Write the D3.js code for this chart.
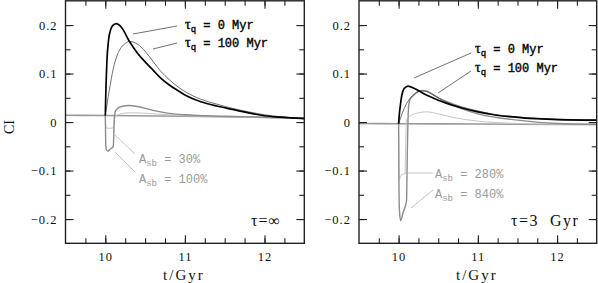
<!DOCTYPE html>
<html>
<head>
<meta charset="utf-8">
<script src="https://cdn.jsdelivr.net/npm/d3@7"></script>
<style>
  body { margin: 0; background: #fff; }
  svg text { font-family: "Liberation Serif", "DejaVu Serif", serif; }
  .mono { font-family: "Liberation Mono", "DejaVu Sans Mono", monospace !important; }
</style>
</head>
<body>
<svg id="SVG_CONTAINER" width="598" height="283"></svg>
<script>
let d3 = window.d3;

// tick values
const xMajor = [10, 11, 12];
const yMajor = [-0.2, -0.1, 0, 0.1, 0.2];

// ---- left panel (tau = infinity) ----
const infBaseT = [9.5, 10, 11, 12, 12.5];
const infBaseV = [0.014, 0.0135, 0.012, 0.0095, 0.008];

const infQ0T = [10, 10.005, 10.01, 10.02, 10.04, 10.07, 10.1, 10.14, 10.2, 10.3, 10.4, 10.5, 10.6, 10.7, 10.8, 10.9, 11.0, 11.2, 11.4, 11.6, 11.8, 12.0, 12.2, 12.5];
const infQ0V = [0.0135, 0.05, 0.08, 0.125, 0.168, 0.192, 0.2, 0.203, 0.196, 0.167, 0.143, 0.124, 0.107, 0.09, 0.077, 0.066, 0.056, 0.042, 0.033, 0.026, 0.019, 0.013, 0.010, 0.007];

const infQ100T = [10, 10.05, 10.1, 10.15, 10.2, 10.25, 10.3, 10.35, 10.4, 10.5, 10.6, 10.7, 10.8, 10.9, 11.0, 11.2, 11.4, 11.6, 11.8, 12.0, 12.2, 12.5];
const infQ100V = [0.0135, 0.065, 0.11, 0.138, 0.154, 0.162, 0.166, 0.165, 0.161, 0.146, 0.125, 0.104, 0.088, 0.074, 0.063, 0.047, 0.037, 0.028, 0.021, 0.015, 0.011, 0.007];

const infA100T = [10, 10.004, 10.01, 10.03, 10.06, 10.1, 10.115, 10.13, 10.2, 10.3, 10.4, 10.6, 10.8, 11.0, 11.5, 12.0, 12.5];
const infA100V = [0.0135, -0.03, -0.055, -0.06, -0.056, -0.05, 0.01, 0.024, 0.032, 0.034, 0.032, 0.024, 0.018, 0.015, 0.012, 0.010, 0.008];

const infA30T = [10, 10.004, 10.01, 10.05, 10.1, 10.115, 10.13, 10.2, 10.3, 10.4, 10.6, 10.8, 11.0, 11.5, 12.0, 12.5];
const infA30V = [0.0135, -0.005, -0.012, -0.013, -0.012, 0.006, 0.012, 0.017, 0.019, 0.019, 0.017, 0.015, 0.013, 0.011, 0.0095, 0.008];

// ---- right panel (tau = 3 Gyr) ----
const t3BaseT = [9.5, 10, 11, 12, 12.5];
const t3BaseV = [-0.003, -0.0035, -0.004, -0.005, -0.005];

const t3Q0T = [10, 10.01, 10.02, 10.04, 10.07, 10.12, 10.2, 10.3, 10.4, 10.5, 10.6, 10.8, 11.0, 11.2, 11.4, 11.6, 11.8, 12.0, 12.5];
const t3Q0V = [-0.0035, 0.018, 0.032, 0.055, 0.069, 0.074, 0.069, 0.06, 0.052, 0.045, 0.039, 0.029, 0.021, 0.015, 0.011, 0.008, 0.0065, 0.005, 0.004];

const t3Q100T = [10, 10.05, 10.1, 10.15, 10.2, 10.25, 10.3, 10.35, 10.4, 10.5, 10.6, 10.8, 11.0, 11.2, 11.4, 11.6, 11.8, 12.0, 12.5];
const t3Q100V = [-0.0035, 0.02, 0.038, 0.05, 0.058, 0.063, 0.064, 0.063, 0.059, 0.05, 0.043, 0.031, 0.023, 0.016, 0.012, 0.009, 0.007, 0.006, 0.004];

const t3A840T = [10, 10.004, 10.01, 10.025, 10.06, 10.1, 10.11, 10.125, 10.14, 10.2, 10.3, 10.35, 10.4, 10.5, 10.6, 10.8, 11.0, 11.5, 12.0, 12.5];
const t3A840V = [-0.0035, -0.12, -0.18, -0.203, -0.185, -0.162, -0.06, 0.03, 0.045, 0.057, 0.065, 0.064, 0.06, 0.05, 0.041, 0.027, 0.017, 0.004, -0.003, -0.005];

const t3A280T = [10, 10.003, 10.01, 10.02, 10.04, 10.08, 10.09, 10.1, 10.15, 10.25, 10.35, 10.5, 10.7, 11.0, 11.5, 12.0, 12.5];
const t3A280V = [-0.0035, -0.09, -0.118, -0.115, -0.108, -0.107, -0.04, 0.004, 0.013, 0.019, 0.021, 0.017, 0.009, 0.002, -0.003, -0.0045, -0.005];

const panels = [
  { x0: 65.5, x1: 304.3, tag: "τ=∞", tagX: 251, tagSpacing: 1,
    series: [
      { t: infBaseT, v: infBaseV, color: "#9a9a9a", w: 1.6 },
      { t: infA30T, v: infA30V, color: "#c4c4c4", w: 1.0 },
      { t: infA100T, v: infA100V, color: "#8c8c8c", w: 1.4 },
      { t: infQ100T, v: infQ100V, color: "#4a4a4a", w: 0.8 },
      { t: infQ0T, v: infQ0V, color: "#000", w: 1.7 }
    ],
    qLabels: [ { x: 185, y: 25, text: "0 Myr", px: [133, 34, 177, 26] },
               { x: 185, y: 43, text: "100 Myr", px: [153, 49, 177, 43] } ],
    aLabels: [ { x: 139, y: 160, text: "30%", px: [115, 135, 135, 154] },
               { x: 139, y: 180, text: "100%", px: [115, 152, 135, 172] } ]
  },
  { x0: 359, x1: 596.7, tag: "τ=3\u00a0\u00a0Gyr", tagX: 511, tagSpacing: 1.5,
    series: [
      { t: t3BaseT, v: t3BaseV, color: "#9a9a9a", w: 1.6 },
      { t: t3A280T, v: t3A280V, color: "#c4c4c4", w: 1.0 },
      { t: t3A840T, v: t3A840V, color: "#8c8c8c", w: 1.4 },
      { t: t3Q100T, v: t3Q100V, color: "#4a4a4a", w: 0.8 },
      { t: t3Q0T, v: t3Q0V, color: "#000", w: 1.7 }
    ],
    qLabels: [ { x: 475, y: 49, text: "0 Myr", px: [414, 78, 471, 53] },
               { x: 475, y: 68, text: "100 Myr", px: [438, 93, 471, 71] } ],
    aLabels: [ { x: 435, y: 175, text: "280%", px: [405, 173, 433, 173] },
               { x: 435, y: 195, text: "840%", px: [411, 208, 433, 190] } ]
  }
];

const TOP = 0.8, BOTTOM = 243.3;
let svg = d3.select("#SVG_CONTAINER");

panels.forEach(function (p) {
  let xScale = d3.scaleLinear().domain([9.5, 12.5]).range([p.x0, p.x1]);
  let yScale = d3.scaleLinear().domain([-0.25, 0.25]).range([BOTTOM, TOP]);

  let g = svg.append("g");

  let clipId = "clip" + Math.round(p.x0);
  g.append("clipPath").attr("id", clipId)
    .append("rect").attr("x", p.x0).attr("y", TOP)
    .attr("width", p.x1 - p.x0).attr("height", BOTTOM - TOP);

  let line = d3.line()
    .x(d => xScale(d[0]))
    .y(d => yScale(d[1]))
    .curve(d3.curveMonotoneX);

  let curves = g.append("g").attr("clip-path", "url(#" + clipId + ")");
  p.series.forEach(function (s) {
    curves.append("path")
      .datum(s.t.map((t, i) => [t, s.v[i]]))
      .attr("d", line)
      .attr("fill", "none")
      .attr("stroke", s.color)
      .attr("stroke-width", s.w)
      .attr("stroke-linejoin", "round");
  });

  // ticks, inward on all four sides
  let minorX = d3.range(9.75, 12.5, 0.25);
  let minorY = d3.range(-0.2, 0.2001, 0.05);
  let axes = [
    [d3.axisBottom(xScale).tickValues(minorX).tickSize(-5).tickFormat(""), "translate(0," + BOTTOM + ")"],
    [d3.axisBottom(xScale).tickValues(xMajor).tickSize(-8).tickPadding(9).tickFormat(d3.format("d")), "translate(0," + BOTTOM + ")"],
    [d3.axisTop(xScale).tickValues(minorX).tickSize(-5).tickFormat(""), "translate(0," + TOP + ")"],
    [d3.axisTop(xScale).tickValues(xMajor).tickSize(-8).tickFormat(""), "translate(0," + TOP + ")"],
    [d3.axisLeft(yScale).tickValues(minorY).tickSize(-5).tickFormat(""), "translate(" + p.x0 + ",0)"],
    [d3.axisLeft(yScale).tickValues(yMajor).tickSize(-8).tickPadding(8).tickFormat(d => d === 0 ? "0" : d3.format(".1f")(d).replace("-", "\u2212")), "translate(" + p.x0 + ",0)"],
    [d3.axisRight(yScale).tickValues(minorY).tickSize(-5).tickFormat(""), "translate(" + p.x1 + ",0)"],
    [d3.axisRight(yScale).tickValues(yMajor).tickSize(-8).tickFormat(""), "translate(" + p.x1 + ",0)"]
  ];
  axes.forEach(function (a) {
    let ag = g.append("g").attr("transform", a[1]).call(a[0]);
    ag.select(".domain").remove();
    ag.selectAll("line").attr("stroke", "#222").attr("stroke-width", 1.1);
    ag.selectAll("text").attr("font-size", 12.5).attr("fill", "#111")
      .attr("letter-spacing", 1)
      .style("font-family", "Liberation Serif, DejaVu Serif, serif");
  });

  // frame
  g.append("rect")
    .attr("x", p.x0).attr("y", TOP)
    .attr("width", p.x1 - p.x0).attr("height", BOTTOM - TOP)
    .attr("fill", "none").attr("stroke", "#222").attr("stroke-width", 1.4);

  // x-axis title
  g.append("text")
    .attr("x", (p.x0 + p.x1) / 2 - 1).attr("y", 280)
    .attr("text-anchor", "middle").attr("font-size", 15).attr("fill", "#111")
    .attr("letter-spacing", 2)
    .text("t/Gyr");

  // panel tag
  g.append("text")
    .attr("x", p.tagX).attr("y", 226)
    .attr("font-size", 16).attr("fill", "#111")
    .attr("letter-spacing", p.tagSpacing)
    .text(p.tag);

  // tau_q labels
  p.qLabels.forEach(function (l) {
    g.append("line")
      .attr("x1", l.px[0]).attr("y1", l.px[1]).attr("x2", l.px[2]).attr("y2", l.px[3])
      .attr("stroke", "#333").attr("stroke-width", 0.7);
    let t = g.append("text").attr("class", "mono")
      .attr("x", l.x).attr("y", l.y + 4)
      .attr("font-size", 12).attr("fill", "#000")
      .attr("stroke", "#000").attr("stroke-width", 0.35);
    t.append("tspan").style("font-family", "Liberation Serif, serif").attr("font-size", 14).text("τ");
    t.append("tspan").attr("dy", 3).attr("font-size", 9).text("q");
    t.append("tspan").attr("dy", -3).text(" = " + l.text);
  });

  // A_sb labels
  p.aLabels.forEach(function (l) {
    g.append("line")
      .attr("x1", l.px[0]).attr("y1", l.px[1]).attr("x2", l.px[2]).attr("y2", l.px[3])
      .attr("stroke", "#aaa").attr("stroke-width", 0.7);
    let t = g.append("text").attr("class", "mono")
      .attr("x", l.x).attr("y", l.y + 3)
      .attr("font-size", 12).attr("fill", "#9a9a9a");
    t.append("tspan").text("A");
    t.append("tspan").attr("dy", 3).attr("font-size", 9).text("sb");
    t.append("tspan").attr("dy", -3).text(" = " + l.text);
  });
});

// y-axis title
svg.append("text")
  .attr("transform", "translate(14,127) rotate(-90)")
  .attr("text-anchor", "middle").attr("font-size", 14).attr("fill", "#111")
  .text("CI");
</script>
</body>
</html>
